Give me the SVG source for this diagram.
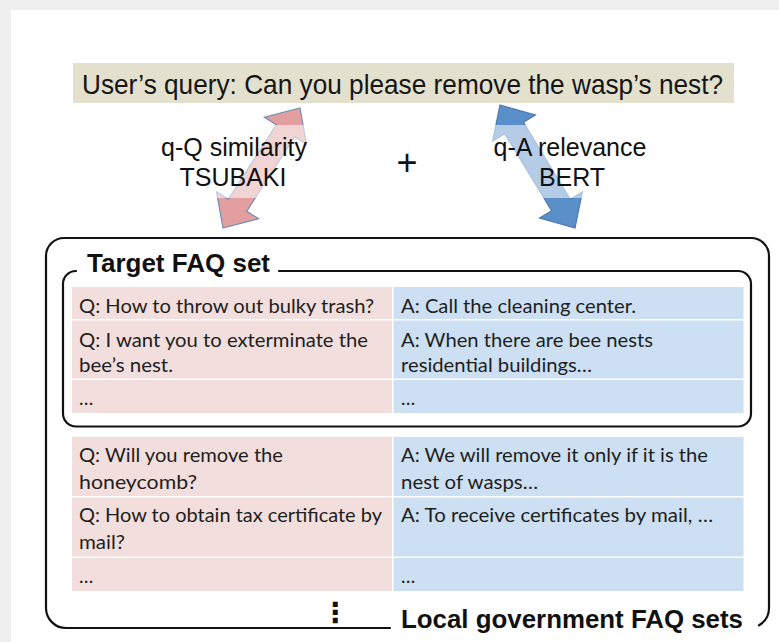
<svg xmlns="http://www.w3.org/2000/svg" width="779" height="642" viewBox="0 0 779 642">
<style>
.lbl{font-family:"Liberation Sans",Arial,sans-serif;font-size:25px;fill:#111;text-anchor:middle}
.hd{font-family:"Liberation Sans",Arial,sans-serif;font-weight:bold;font-size:25px;fill:#111}
.cell{font-family:Lato,"Open Sans",sans-serif;font-size:19px;fill:#1e1e1e}
.q{fill:#f2dedc}
.a{fill:#cddff2}
.box{fill:none;stroke:#111;stroke-width:2.2;stroke-linecap:round}
</style>
<rect x="0" y="0" width="779" height="642" fill="#efefef"/>
<rect x="11" y="10" width="768" height="632" fill="#ffffff"/>

<g id="query">
<rect x="73" y="63" width="661" height="40" fill="#e3e0cd"/>
<text x="82" y="93.5" font-family="Liberation Sans, Arial, sans-serif" font-size="28" fill="#151515" textLength="641" lengthAdjust="spacingAndGlyphs">User’s query: Can you please remove the wasp’s nest?</text>
</g>

<g id="connectors">
<polygon points="300,108 306.5,144.2 294.7,136.7 246.8,211.2 258.6,218.8 223,228 216.5,191.8 228.3,199.3 276.2,124.8 264.4,117.2" fill="#e39f9f" stroke="#6f8db8" stroke-width="1.2"/>
<polygon points="500,105 535.4,115 523.5,122.3 570.3,199.2 582.3,191.9 575,228 539.6,218 551.6,210.7 504.7,133.8 492.7,141.1" fill="#5b8fca" stroke="#4a78ad" stroke-width="1.2"/>
<rect x="140" y="125" width="180" height="73" fill="#ffffff" fill-opacity="0.55"/>
<rect x="480" y="125" width="180" height="73" fill="#ffffff" fill-opacity="0.55"/>
</g>

<g id="qQ-label">
<text class="lbl" x="234" y="156">q-Q similarity</text>
<text class="lbl" x="233" y="186">TSUBAKI</text>
</g>
<g id="plus">
<text x="407" y="175" font-family="Liberation Sans, Arial, sans-serif" font-size="36" fill="#111" text-anchor="middle">+</text>
</g>
<g id="qA-label">
<text class="lbl" x="570" y="156">q-A relevance</text>
<text class="lbl" x="572" y="186">BERT</text>
</g>

<g id="local-faq-sets">
<path class="box" d="M390 628 L66 628 A20 20 0 0 1 46 608 L46 256 A18 18 0 0 1 64 238 L751 238 A18 18 0 0 1 769 256 L769 608 A20 20 0 0 1 759 625.3"/>
<text class="hd" x="401" y="628" textLength="342" lengthAdjust="spacingAndGlyphs">Local government FAQ sets</text>
<text x="335" y="622" font-family="Noto Sans CJK JP, DejaVu Sans, sans-serif" font-weight="bold" font-size="28" fill="#111" text-anchor="middle">⋮</text>
</g>

<g id="target-faq-set">
<path class="box" stroke-width="2.5" d="M76 271 A13 13 0 0 0 63 284 L63 413.5 A13 13 0 0 0 76 426.5 L738 426.5 A13 13 0 0 0 751 413.5 L751 284 A13 13 0 0 0 738 271 L279 271"/>
<text class="hd" x="87" y="271.5" textLength="183" lengthAdjust="spacingAndGlyphs">Target FAQ set</text>
</g>

<g id="target-table">
<rect class="q" x="72" y="287" width="320" height="32"/>
<rect class="a" x="393.5" y="287" width="350" height="32"/>
<rect class="q" x="72" y="320.5" width="320" height="58"/>
<rect class="a" x="393.5" y="320.5" width="350" height="58"/>
<rect class="q" x="72" y="380" width="320" height="33"/>
<rect class="a" x="393.5" y="380" width="350" height="33"/>
<text class="cell" x="79" y="312.5" textLength="295" lengthAdjust="spacingAndGlyphs">Q: How to throw out bulky trash?</text>
<text class="cell" x="401" y="312.5" textLength="235" lengthAdjust="spacingAndGlyphs">A: Call the cleaning center.</text>
<text class="cell" x="79" y="346.5" textLength="289" lengthAdjust="spacingAndGlyphs">Q: I want you to exterminate the</text>
<text class="cell" x="79" y="371.5" textLength="94" lengthAdjust="spacingAndGlyphs">bee’s nest.</text>
<text class="cell" x="401" y="346.5" textLength="252" lengthAdjust="spacingAndGlyphs">A: When there are bee nests</text>
<text class="cell" x="401" y="371.5" textLength="191" lengthAdjust="spacingAndGlyphs">residential buildings…</text>
<text class="cell" x="79" y="405">…</text>
<text class="cell" x="401" y="405">…</text>
</g>

<g id="local-table">
<rect class="q" x="72" y="437" width="320" height="59"/>
<rect class="a" x="393.5" y="437" width="350" height="59"/>
<rect class="q" x="72" y="497.5" width="320" height="59"/>
<rect class="a" x="393.5" y="497.5" width="350" height="59"/>
<rect class="q" x="72" y="558" width="320" height="33"/>
<rect class="a" x="393.5" y="558" width="350" height="33"/>
<text class="cell" x="79" y="461.5" textLength="204" lengthAdjust="spacingAndGlyphs">Q: Will you remove the</text>
<text class="cell" x="79" y="489" textLength="118" lengthAdjust="spacingAndGlyphs">honeycomb?</text>
<text class="cell" x="401" y="461.5" textLength="307" lengthAdjust="spacingAndGlyphs">A: We will remove it only if it is the</text>
<text class="cell" x="401" y="489" textLength="137" lengthAdjust="spacingAndGlyphs">nest of wasps…</text>
<text class="cell" x="79" y="521.5" textLength="303" lengthAdjust="spacingAndGlyphs">Q: How to obtain tax certificate by</text>
<text class="cell" x="79" y="549" textLength="46" lengthAdjust="spacingAndGlyphs">mail?</text>
<text class="cell" x="401" y="521.5" textLength="312" lengthAdjust="spacingAndGlyphs">A: To receive certificates by mail, …</text>
<text class="cell" x="79" y="583">…</text>
<text class="cell" x="401" y="583">…</text>
</g>
</svg>
